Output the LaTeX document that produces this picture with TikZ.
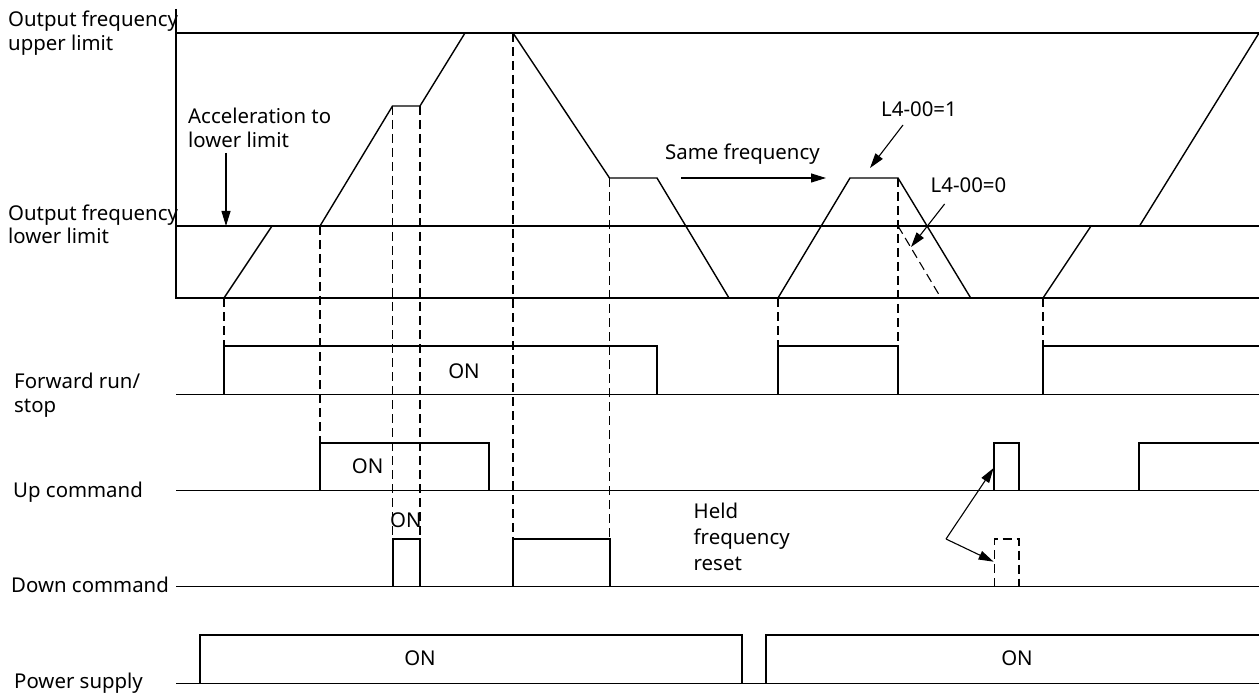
\documentclass[tikz,border=0pt]{standalone}
\usepackage{fontspec}
\setmainfont{Noto Sans}
\usetikzlibrary{arrows.meta}
\begin{document}
\begin{tikzpicture}[x=1pt,y=-1pt,
  lbl/.style={inner sep=0pt, anchor=base west, font=\fontsize{20.4}{24}\selectfont, align=left},
  onlbl/.style={inner sep=0pt, font=\fontsize{20.4}{24}\selectfont},
  thinln/.style={line width=1.1pt},
  curveln/.style={line width=1.4pt, line join=miter},
  sig/.style={line width=2pt, line join=miter},
  dsh/.style={line width=1.1pt, dash pattern=on 9pt off 5pt},
  arr/.style={line width=1.1pt, -{Triangle[length=15pt,width=9pt]}},
]
\useasboundingbox (0,0) rectangle (1259,695);

% axes and limit lines
\draw[thinln] (176,9) -- (176,298) -- (1259,298);
\draw[thinln] (176,33) -- (1259,33);
\draw[thinln] (176,226) -- (1259,226);

% output frequency curve
\draw[curveln] (224,298) -- (272,226) -- (320,226) -- (392.5,106) -- (420,106) -- (465,33) -- (513,33)
  -- (609.5,178) -- (657,178) -- (729,298);
\draw[curveln] (778,298) -- (850,178) -- (898,178) -- (970.7,298);
\draw[curveln] (1043,298) -- (1091,226) -- (1139.5,226) -- (1259,33);
\draw[dsh] (898,226) -- (941,298);

% dashed timing guides
\draw[dsh] (224,298) -- (224,346);
\draw[dsh] (320,226) -- (320,442.7);
\draw[dsh] (392.5,106) -- (392.5,539);
\draw[dsh] (420,106) -- (420,539);
\draw[dsh] (513,33) -- (513,539);
\draw[dsh] (609.5,178) -- (609.5,539);
\draw[dsh] (778,298) -- (778,346);
\draw[dsh] (898,178) -- (898,346);
\draw[dsh] (1043,298) -- (1043,346);

% forward run / stop
\draw[thinln] (176,394.3) -- (1259,394.3);
\draw[sig] (224,394.3) -- (224,346) -- (657,346) -- (657,394.3);
\draw[sig] (778,394.3) -- (778,346) -- (898,346) -- (898,394.3);
\draw[sig] (1043,394.3) -- (1043,346) -- (1259,346);

% up command
\draw[thinln] (176,490.7) -- (1259,490.7);
\draw[sig] (320,490.7) -- (320,442.7) -- (489,442.7) -- (489,490.7);
\draw[sig] (994.4,490.7) -- (994.4,442.7) -- (1019,442.7) -- (1019,490.7);
\draw[sig] (1139,490.7) -- (1139,442.7) -- (1259,442.7);

% down command
\draw[thinln] (176,586.7) -- (1259,586.7);
\draw[sig] (392.5,586.7) -- (392.5,539) -- (420,539) -- (420,586.7);
\draw[sig] (513,586.7) -- (513,539) -- (609.5,539) -- (609.5,586.7);
\draw[dsh] (994.4,586.7) -- (994.4,539) -- (1019,539) -- (1019,586.7);

% power supply
\draw[thinln] (176,683.3) -- (1259,683.3);
\draw[sig] (200,683.3) -- (200,635) -- (741.7,635) -- (741.7,683.3);
\draw[sig] (765.8,683.3) -- (765.8,635) -- (1259,635);

% labels (base anchor = baseline of last line)
\node[lbl] (ful) at (8,51) {Output frequency\\upper limit};
\node[lbl] (fll) at (8,244) {Output frequency\\lower limit};
\node[lbl] (acc) at (188,147.7) {Acceleration to\\lower limit};
\node[lbl] (same) at (665,160) {Same frequency};
\node[lbl] (l41) at (881,117) {L4-00=1};
\node[lbl] (l40) at (930.5,193) {L4-00=0};
\node[lbl] (fwd) at (14,412) {Forward run/\\stop};
\node[lbl] (up) at (13,497) {Up command};
\node[lbl] (down) at (11,592.5) {Down command};
\node[lbl] (pwr) at (14,688) {Power supply};
\node[lbl, font=\fontsize{20.4}{26}\selectfont] (held) at (693.5,570) {Held\\frequency\\reset};

\node[onlbl] (on1) at (464,371) {ON};
\node[onlbl] (on2) at (367.6,466.7) {ON};
\node[onlbl] (on3) at (405.8,520) {ON};
\node[onlbl] (on4) at (420,658) {ON};
\node[onlbl] (on5) at (1017,658) {ON};

% arrows
\coordinate (a1s) at (226,153);
\coordinate (a1e) at (226,226);
\coordinate (a2s) at (681,178);
\coordinate (a2e) at (826,178);
\coordinate (a3s) at (903,125);
\coordinate (a3e) at (870,168);
\coordinate (a4s) at (944.6,204);
\coordinate (a4e) at (911,247);
\coordinate (hk) at (946,539);
\coordinate (h1) at (993.6,468);
\coordinate (h2) at (993.6,561.7);
\draw[arr] (a1s) -- (a1e);
\draw[arr] (a2s) -- (a2e);
\draw[arr] (a3s) -- (a3e);
\draw[arr] (a4s) -- (a4e);
\draw[arr] (hk) -- (h1);
\draw[arr] (hk) -- (h2);
\end{tikzpicture}
\end{document}
